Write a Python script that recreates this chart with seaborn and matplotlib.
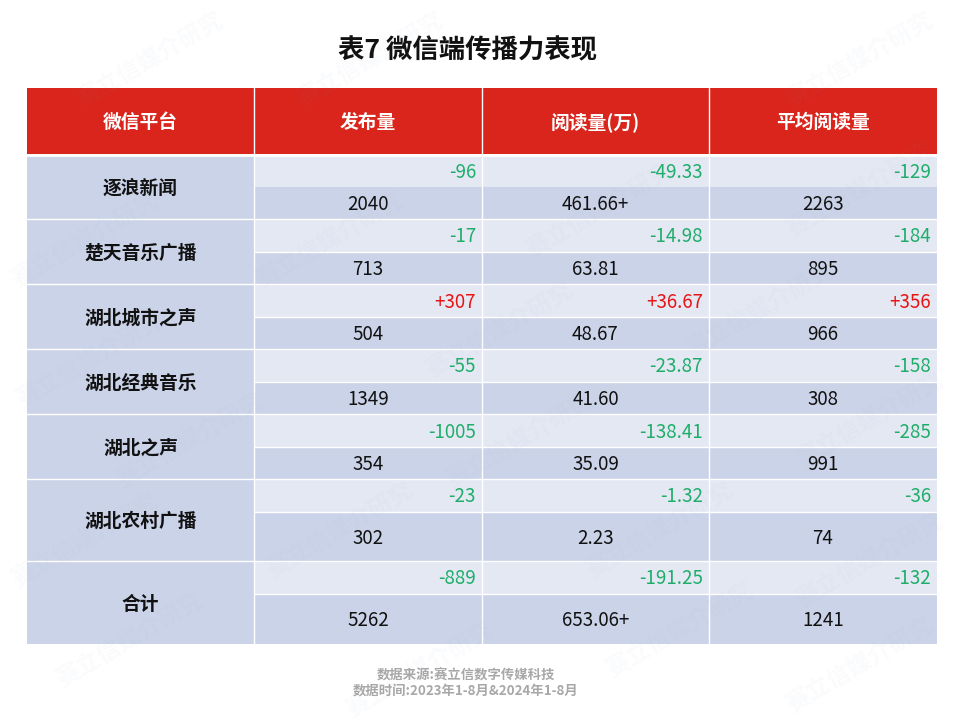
import matplotlib.pyplot as plt
import numpy as np
import seaborn as sns
from matplotlib.colors import ListedColormap

FONT = ["Noto Sans CJK SC", "DejaVu Sans"]

title = "表7 微信端传播力表现"
headers = ["微信平台", "发布量", "阅读量(万)", "平均阅读量"]
platforms = ["逐浪新闻", "楚天音乐广播", "湖北城市之声", "湖北经典音乐", "湖北之声", "湖北农村广播", "合计"]

posts = ["2040", "713", "504", "1349", "354", "302", "5262"]
posts_change = ["-96", "-17", "+307", "-55", "-1005", "-23", "-889"]
reads = ["461.66+", "63.81", "48.67", "41.60", "35.09", "2.23", "653.06+"]
reads_change = ["-49.33", "-14.98", "+36.67", "-23.87", "-138.41", "-1.32", "-191.25"]
avg_reads = ["2263", "895", "966", "308", "991", "74", "1241"]
avg_change = ["-129", "-184", "+356", "-158", "-285", "-36", "-132"]

footer = ["数据来源:赛立信数字传媒科技", "数据时间:2023年1-8月&2024年1-8月"]

# layout, in pixels of the 960x720 picture
col_edges = [27, 254, 482, 709, 937]
row_edges = [88, 154, 187, 219, 252, 284, 317, 349, 382, 414, 447, 479, 512, 561, 594, 644]
watermarks = [(370, 60), (860, 60), (150, 60), (85, 240), (330, 240), (600, 210), (860, 190),
              (500, 330), (90, 360), (760, 310), (190, 440), (520, 440), (870, 420), (85, 540),
              (340, 530), (660, 530), (870, 560), (130, 640), (420, 670), (680, 630), (860, 665)]

RED = "#d9251c"
LIGHT = "#e4e8f3"
DARK = "#cbd3e8"
GREEN = "#1fae6a"
UP = "#e81414"

sns.set_theme(style="white")
plt.rcParams["font.family"] = FONT

# one heatmap cell per pixel so the uneven row heights come out right
heights = np.diff(row_edges)
widths = np.diff(col_edges)
body = []
for i in range(len(platforms)):
    body.append([2, 1, 1, 1])
    body.append([2, 2, 2, 2])
shades = np.array([[0, 0, 0, 0]] + body)
grid = np.repeat(np.repeat(shades, heights, axis=0), widths, axis=1)

X0, Y0 = col_edges[0], row_edges[0]

fig = plt.figure(figsize=(9.6, 7.2), dpi=100)
ax = fig.add_axes([X0 / 960, 1 - row_edges[-1] / 720, widths.sum() / 960, heights.sum() / 720])
sns.heatmap(grid, ax=ax, cmap=ListedColormap([RED, LIGHT, DARK]), vmin=0, vmax=2,
            cbar=False, xticklabels=False, yticklabels=False)

for x in col_edges[1:-1]:
    ax.axvline(x - X0, color="white", lw=1)
ax.axhline(row_edges[1] - Y0 + 0.5, color="white", lw=2)
for k in range(3, 15, 2):
    ax.axhline(row_edges[k] - Y0, color="white", lw=1)
for k in range(4, 15, 2):
    ax.hlines(row_edges[k] - Y0, col_edges[1] - X0, col_edges[-1] - X0, color="white", lw=1)

for j, name in enumerate(headers):
    ax.text((col_edges[j] + col_edges[j + 1]) / 2 - X0, 122 - Y0, name, color="white", ha="center",
            va="center", fontsize=13.5, fontweight="bold")

columns = [(posts, posts_change), (reads, reads_change), (avg_reads, avg_change)]
for i, name in enumerate(platforms):
    top, mid, bottom = row_edges[1 + 2 * i], row_edges[2 + 2 * i], row_edges[3 + 2 * i]
    ax.text(140.5 - X0, (top + bottom) / 2 + 1.5 - Y0, name, color="#111111", ha="center", va="center",
            fontsize=13.5, fontweight="bold")
    for j, (values, changes) in enumerate(columns):
        change = changes[i]
        ax.text(col_edges[j + 2] - 6 - X0, (top + mid) / 2 + 1.5 - Y0, change, ha="right", va="center",
                fontsize=13.5, color=UP if change.startswith("+") else GREEN)
        ax.text((col_edges[j + 1] + col_edges[j + 2]) / 2 - X0, (mid + bottom) / 2 + 1.5 - Y0, values[i],
                ha="center", va="center", fontsize=13.5, color="#111111")

fig.text(468 / 960, 1 - 51 / 720, title, ha="center", va="center", fontsize=19, fontweight="bold", color="#111111")
fig.text(466 / 960, 1 - 676 / 720, footer[0], ha="center", va="center", fontsize=9.6, fontweight="bold", color="#a8a8a8")
fig.text(466 / 960, 1 - 692 / 720, footer[1], ha="center", va="center", fontsize=9.6, fontweight="bold", color="#a8a8a8")

# faint watermarks over the whole picture
for wx, wy in watermarks:
    fig.text(wx / 960, 1 - wy / 720, "赛立信媒介研究", rotation=30, ha="center", va="center", fontsize=17,
             fontweight="bold", color="#8fa3c8", alpha=0.045)

fig.savefig("out.png", dpi=100)
